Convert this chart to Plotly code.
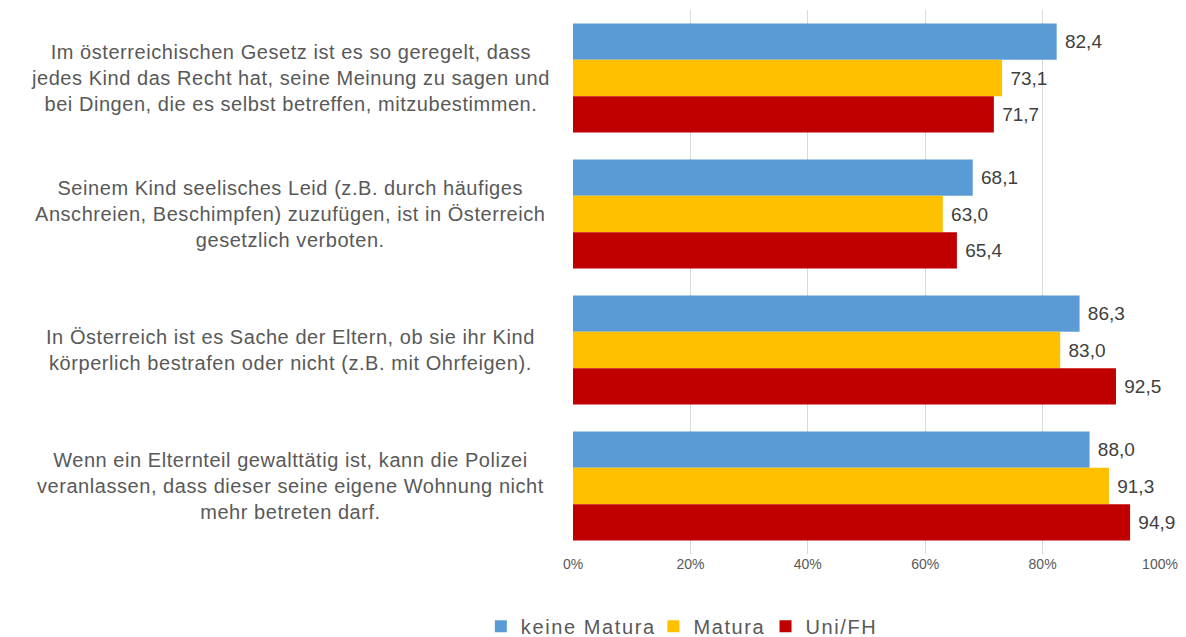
import plotly.graph_objects as go

categories = [
    "Im österreichischen Gesetz ist es so geregelt, dass<br>jedes Kind das Recht hat, seine Meinung zu sagen und<br>bei Dingen, die es selbst betreffen, mitzubestimmen.",
    "Seinem Kind seelisches Leid (z.B. durch häufiges<br>Anschreien, Beschimpfen) zuzufügen, ist in Österreich<br>gesetzlich verboten.",
    "In Österreich ist es Sache der Eltern, ob sie ihr Kind<br>körperlich bestrafen oder nicht (z.B. mit Ohrfeigen).",
    "Wenn ein Elternteil gewalttätig ist, kann die Polizei<br>veranlassen, dass dieser seine eigene Wohnung nicht<br>mehr betreten darf.",
]
cat_ids = ["c1", "c2", "c3", "c4"]
series_names = ["keine Matura", "Matura", "Uni/FH"]
keine_matura = [82.4, 68.1, 86.3, 88.0]
matura = [73.1, 63.0, 83.0, 91.3]
uni_fh = [71.7, 65.4, 92.5, 94.9]
colors = ["#5B9BD5", "#FFC000", "#C00000"]
tick_vals = [0, 20, 40, 60, 80, 100]
tick_text = ["0%", "20%", "40%", "60%", "80%", "100%"]

FONT = "Liberation Sans, Arial"
legend_ids = ["legend", "legend2", "legend3"]
legend_x = [-0.157, 0.137, 0.328]

fig = go.Figure()
for name, vals, col, lg in zip(series_names, [keine_matura, matura, uni_fh], colors, legend_ids):
    fig.add_trace(go.Bar(
        y=cat_ids, x=vals, orientation="h",
        name='<span style="letter-spacing:1.6px">' + name + "</span>",
        legend=lg,
        marker=dict(color=col, line=dict(width=0)),
        text=vals, texttemplate=" %{x:.1f}", textposition="outside",
        textfont=dict(size=19, color="#404040", family=FONT),
        cliponaxis=False,
    ))

for cid, label in zip(cat_ids, categories):
    fig.add_annotation(
        x=-0.482, xref="paper", xanchor="center",
        y=cid, yref="y", yanchor="middle",
        text='<span style="letter-spacing:0.55px">' + label + "</span>",
        showarrow=False, align="center",
        font=dict(size=20, color="#595959", family=FONT),
    )

legend_common = dict(orientation="h", yanchor="middle", y=-0.133,
                     xanchor="left", bgcolor="rgba(0,0,0,0)",
                     font=dict(size=20, color="#595959", family=FONT),
                     itemwidth=30)
layout_legends = {}
for lg, lx in zip(legend_ids, legend_x):
    layout_legends[lg] = dict(legend_common, x=lx)

fig.update_layout(
    width=1178, height=629,
    margin=dict(l=565, r=26, t=2, b=83, autoexpand=False),
    paper_bgcolor="white", plot_bgcolor="white",
    barmode="group", bargap=0.2, bargroupgap=0,
    separators=", ",
    font=dict(family=FONT, color="#595959"),
    xaxis=dict(range=[0, 100], tickvals=tick_vals, ticktext=tick_text,
               showgrid=True, gridcolor="#D9D9D9", gridwidth=1,
               zeroline=False, showline=False,
               tickfont=dict(size=14, color="#595959", family=FONT), ticks=""),
    yaxis=dict(autorange="reversed", showticklabels=False, showgrid=False,
               showline=False, zeroline=False, ticks=""),
    showlegend=True,
    **layout_legends,
)

fig.write_html("out.html")
